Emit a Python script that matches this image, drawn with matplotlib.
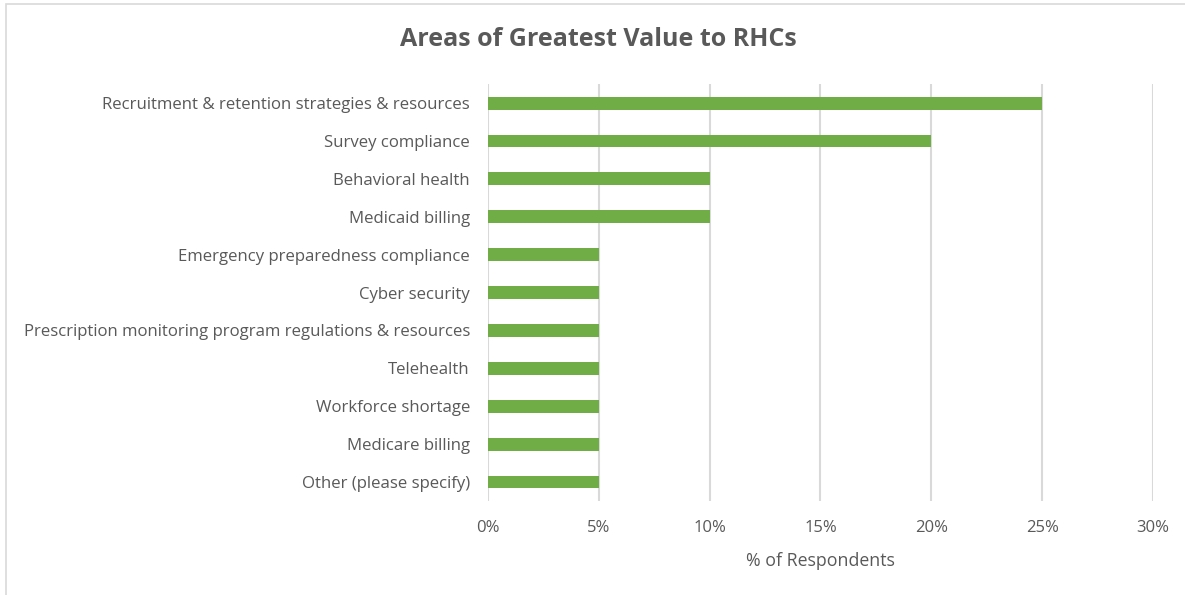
import matplotlib
matplotlib.use('Agg')
import matplotlib.pyplot as plt
from matplotlib.ticker import FuncFormatter
from matplotlib.patches import Rectangle

# categories, top to bottom
areas = [
    "Recruitment & retention strategies & resources",
    "Survey compliance",
    "Behavioral health",
    "Medicaid billing",
    "Emergency preparedness compliance",
    "Cyber security",
    "Prescription monitoring program regulations & resources",
    "Telehealth",
    "Workforce shortage",
    "Medicare billing",
    "Other (please specify)",
]
pct = [0.25, 0.20, 0.10, 0.10, 0.05, 0.05, 0.05, 0.05, 0.05, 0.05, 0.05]
xticks = [0, 0.05, 0.10, 0.15, 0.20, 0.25, 0.30]

plt.rcParams['font.family'] = ['Open Sans', 'DejaVu Sans']
grey = '#595959'

fig = plt.figure(figsize=(11.85, 5.95), dpi=100)
ax = fig.add_axes([0.4118, 0.158, 0.5612, 0.7006])

ypos = list(range(len(areas)))
ax.barh(ypos, pct, height=0.34, color='#70AD47', zorder=3)
ax.set_ylim(len(areas) - 0.5, -0.5)
ax.set_yticks(ypos)
ax.set_yticklabels(areas, fontsize=12.1, color=grey)

ax.set_xlim(0, 0.30)
ax.set_xticks(xticks)
ax.xaxis.set_major_formatter(FuncFormatter(lambda v, p: '{:.0f}%'.format(v * 100)))
ax.tick_params(axis='x', labelsize=12, labelcolor=grey, length=0, pad=14)
ax.tick_params(axis='y', length=0, pad=13)
ax.grid(axis='x', color='#D9D9D9', linewidth=1.5, zorder=0)
for s in ax.spines.values():
    s.set_visible(False)

ax.set_xlabel('% of Respondents', fontsize=12.8, color=grey, labelpad=11)

fig.text(0.505, 0.933, 'Areas of Greatest Value to RHCs', ha='center', va='center',
         fontsize=18, fontweight='bold', color=grey)

# chart frame
fig.patches.append(Rectangle((0.005, -0.05), 1.2, 1.043, transform=fig.transFigure,
                             fill=False, edgecolor='#D9D9D9', linewidth=1.2))

fig.savefig('out.png', dpi=100)
